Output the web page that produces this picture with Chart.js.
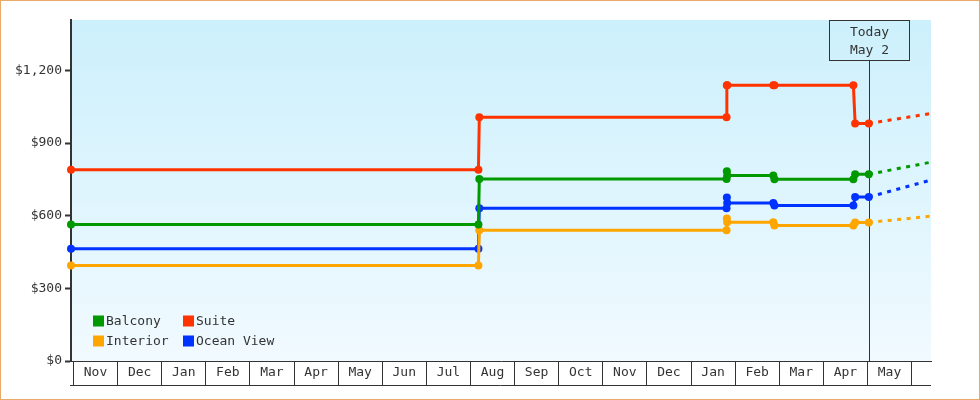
<!DOCTYPE html>
<html>
<head>
<meta charset="utf-8">
<script src="https://cdn.jsdelivr.net/npm/chart.js@4.4.1/dist/chart.umd.min.js"></script>
<style>
  html, body { margin: 0; padding: 0; background: #fff; }
  #wrap { width: 980px; height: 400px; }
</style>
</head>
<body>
<div id="wrap"><canvas id="priceChart" width="980" height="400"></canvas></div>
<script>
// months on the axis, Nov (year 1) .. May (year 2); x is counted in months from Nov 1
const months = ['Nov', 'Dec', 'Jan', 'Feb', 'Mar', 'Apr', 'May', 'Jun', 'Jul', 'Aug',
                'Sep', 'Oct', 'Nov', 'Dec', 'Jan', 'Feb', 'Mar', 'Apr', 'May'];
const yTicks = [0, 300, 600, 900, 1200];

// sample dates (in months since Nov 1) shared by all cabin types
const sampleX = [-0.057, 9.18, 9.2, 14.805, 14.812, 14.82, 15.865, 15.89, 17.68, 17.72, 18.03];
const balcony   = [564, 564, 751, 751, 783, 766, 766, 750, 750, 771, 771];
const suite     = [790, 790, 1006, 1006, 1139, 1139, 1139, 1139, 1139, 981, 981];
const interior  = [394, 394, 540, 540, 588, 573, 573, 560, 560, 572, 572];
const oceanView = [464, 464, 631, 631, 675, 652, 652, 642, 642, 677, 677];

// dashed forecast from today to the right edge
const todayX = 18.03;
const forecastX = [18.03, 19.44];
const balconyForecast   = [771, 821];
const suiteForecast     = [981, 1022];
const interiorForecast  = [572, 598];
const oceanViewForecast = [677, 747];

const colors = {
    balcony: '#009900',
    suite: '#ff3300',
    interior: '#ffa500',
    oceanView: '#0033ff'
};
const fontFamily = '"DejaVu Sans Mono", "Liberation Mono", monospace';
const inkColor = '#333333';

function toPoints(xs, ys) {
    return xs.map((x, i) => ({ x: x, y: ys[i] }));
}

function solidSet(label, values, color) {
    return {
        label: label,
        data: toPoints(sampleX, values),
        borderColor: color,
        backgroundColor: color,
        borderWidth: 3,
        pointRadius: 4,
        pointHoverRadius: 4,
        pointBorderWidth: 0,
        pointBackgroundColor: color,
        tension: 0,
        clip: false,
        inLegend: true
    };
}

function dashedSet(values, color) {
    return {
        label: '',
        data: toPoints(forecastX, values),
        borderColor: color,
        borderWidth: 3,
        borderDash: [4, 5.5],
        pointRadius: 0,
        tension: 0,
        inLegend: false
    };
}

// light blue gradient behind the plot, frame round the picture
const backgroundPlugin = {
    id: 'plotBackground',
    beforeDraw(chart) {
        const { ctx, chartArea: a } = chart;
        const grad = ctx.createLinearGradient(0, a.top, 0, a.bottom);
        grad.addColorStop(0, '#ccf0fc');
        grad.addColorStop(1, '#f1faff');
        ctx.save();
        ctx.fillStyle = grad;
        ctx.fillRect(a.left, a.top, a.right - a.left, a.bottom - a.top);
        ctx.restore();
    },
    afterDraw(chart) {
        const { ctx, chartArea: a } = chart;
        ctx.save();
        // bottom line of the month boxes
        ctx.strokeStyle = inkColor;
        ctx.lineWidth = 1;
        ctx.beginPath();
        ctx.moveTo(a.left - 1, a.bottom + 24.5);
        ctx.lineTo(a.right, a.bottom + 24.5);
        ctx.stroke();
        // outer frame
        ctx.strokeStyle = '#e8aa66';
        ctx.strokeRect(0.5, 0.5, chart.width - 1, chart.height - 1);
        ctx.restore();
    }
};

// "Today" marker line and its label box
const todayPlugin = {
    id: 'todayMarker',
    beforeDatasetsDraw(chart) {
        const { ctx, chartArea: a, scales } = chart;
        const x = Math.round(scales.x.getPixelForValue(todayX)) + 0.5;
        const boxW = 80, boxH = 40;
        ctx.save();
        ctx.strokeStyle = inkColor;
        ctx.lineWidth = 1;
        ctx.beginPath();
        ctx.moveTo(x, a.top + boxH);
        ctx.lineTo(x, a.bottom);
        ctx.stroke();
        ctx.strokeRect(x - boxW / 2, a.top + 0.5, boxW, boxH);
        ctx.fillStyle = inkColor;
        ctx.font = '13px ' + fontFamily;
        ctx.textAlign = 'center';
        ctx.textBaseline = 'middle';
        ctx.fillText('Today', x, a.top + 13);
        ctx.fillText('May 2', x, a.top + 31);
        ctx.restore();
    }
};

// two-column legend inside the plot, lower left
const legendPlugin = {
    id: 'cornerLegend',
    afterDatasetsDraw(chart) {
        const { ctx, chartArea: a } = chart;
        const items = chart.data.datasets.filter(d => d.inLegend);
        const colX = [a.left + 22, a.left + 112];
        const rowY = [a.bottom - 40, a.bottom - 20];
        ctx.save();
        ctx.font = '13px ' + fontFamily;
        ctx.textBaseline = 'middle';
        ctx.textAlign = 'left';
        items.forEach((d, i) => {
            const cx = colX[i % 2];
            const cy = rowY[Math.floor(i / 2)];
            ctx.fillStyle = d.borderColor;
            ctx.fillRect(cx, cy - 5.5, 11, 11);
            ctx.fillStyle = inkColor;
            ctx.fillText(d.label, cx + 13, cy + 0.5);
        });
        ctx.restore();
    }
};

const ctx = document.getElementById('priceChart').getContext('2d');
new Chart(ctx, {
    type: 'line',
    data: {
        datasets: [
            solidSet('Balcony', balcony, colors.balcony),
            solidSet('Suite', suite, colors.suite),
            solidSet('Interior', interior, colors.interior),
            solidSet('Ocean View', oceanView, colors.oceanView),
            dashedSet(balconyForecast, colors.balcony),
            dashedSet(suiteForecast, colors.suite),
            dashedSet(interiorForecast, colors.interior),
            dashedSet(oceanViewForecast, colors.oceanView)
        ]
    },
    options: {
        responsive: false,
        animation: false,
        devicePixelRatio: 1,
        layout: { padding: { left: 0, right: 49, top: 20, bottom: 0 } },
        plugins: {
            legend: { display: false },
            tooltip: { enabled: false }
        },
        events: [],
        scales: {
            x: {
                type: 'linear',
                min: -0.057,
                max: 19.44,
                afterFit: s => { s.height = 39; },
                afterBuildTicks: s => {
                    s.ticks = months.concat(['']).map((m, i) => ({ value: i }));
                },
                border: { display: true, color: inkColor, width: 1 },
                grid: {
                    drawOnChartArea: false,
                    drawTicks: true,
                    tickLength: 24,
                    tickWidth: 1,
                    tickColor: inkColor
                },
                ticks: {
                    autoSkip: false,
                    maxRotation: 0,
                    labelOffset: 22,
                    padding: -20,
                    color: inkColor,
                    font: { family: fontFamily, size: 13 },
                    callback: v => months[v] || ''
                }
            },
            y: {
                type: 'linear',
                min: 0,
                max: 1408,
                afterFit: s => { s.width = 71; },
                afterBuildTicks: s => {
                    s.ticks = yTicks.map(v => ({ value: v }));
                },
                border: { display: true, color: inkColor, width: 2 },
                grid: {
                    drawOnChartArea: false,
                    drawTicks: true,
                    tickLength: 6,
                    tickWidth: 2,
                    tickColor: inkColor
                },
                ticks: {
                    padding: 3,
                    color: inkColor,
                    font: { family: fontFamily, size: 13 },
                    callback: v => '$' + v.toLocaleString('en-US')
                }
            }
        }
    },
    plugins: [backgroundPlugin, todayPlugin, legendPlugin]
});
</script>
</body>
</html>
